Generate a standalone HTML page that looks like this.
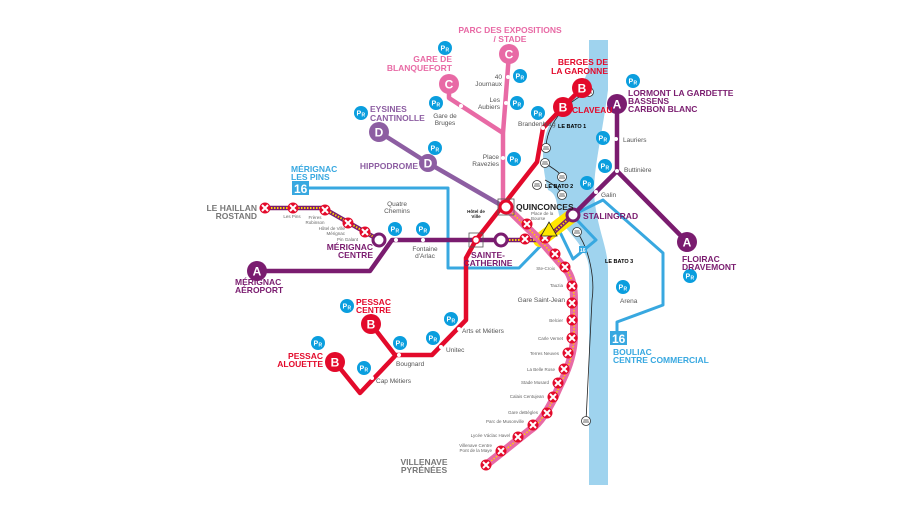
<!DOCTYPE html>
<html><head><meta charset="utf-8"><style>
html,body{margin:0;padding:0;background:#fff;width:900px;height:506px;overflow:hidden}
svg{display:block}
text{font-family:"Liberation Sans",sans-serif}
.t{font-weight:bold;font-size:8.5px}
.s{font-size:6.5px;fill:#555}
.xs{font-size:4.5px;fill:#666}
</style></head><body>
<svg width="900" height="506" viewBox="0 0 900 506" xmlns="http://www.w3.org/2000/svg">
<defs>
<g id="pr"><circle r="7" fill="#0a9ede"/><text x="-4.5" y="2.5" font-size="7" font-weight="bold" fill="#fff" style="font-family:'Liberation Sans',sans-serif">P</text><text x="0.5" y="3.5" font-size="5" font-weight="bold" fill="#fff" style="font-family:'Liberation Sans',sans-serif">R</text></g>
<g id="x"><circle r="5.5" fill="#e30a2b"/><path d="M-3,-3L3,3M3,-3L-3,3" stroke="#fff" stroke-width="2"/></g>
<g id="boat"><circle r="4.5" fill="#fff" stroke="#333" stroke-width="0.8"/><path d="M-3,1h6M-2.5,-1h5" stroke="#333" stroke-width="0.7"/></g>
</defs>
<!-- river -->
<path d="M589,40 H608 V90 C600,150 590,180 596,210 C600,235 608,250 608,270 V485 H589 V270 C589,250 570,235 562,222 C555,210 560,195 548,190 C540,160 540,130 560,110 C575,95 589,80 589,60 Z" fill="#9fd3ee"/>
<!-- bato lines -->
<g fill="none" stroke="#222" stroke-width="0.8">
<path d="M589,92 C570,100 548,120 546,146"/>
<path d="M545,163 C555,170 560,172 562,178 M545,180 C555,185 560,190 563,195"/>
<path d="M577,232 C590,250 595,280 592,300 L586,421"/>
</g>
<use href="#boat" x="589" y="92"/><use href="#boat" x="546" y="148"/><use href="#boat" x="545" y="163"/><use href="#boat" x="562" y="177"/><use href="#boat" x="537" y="185"/><use href="#boat" x="562" y="195"/><use href="#boat" x="577" y="232"/><use href="#boat" x="586" y="421"/>
<text x="558" y="128" font-size="5.5" font-weight="bold">LE BATO 1</text>
<text x="545" y="188" font-size="5.5" font-weight="bold">LE BATO 2</text>
<text x="605" y="263" font-size="5.5" font-weight="bold">LE BATO 3</text>
<!-- line 16 -->
<g fill="none" stroke="#38a8e0" stroke-width="3" stroke-linejoin="round">
<path d="M305,188 H448 V268 H519 L558,228 L573,259 L596,240 L577,220"/>
<path d="M573,215 L603,200 L663,253 V305 L617,322 V336"/>
</g>
<rect x="292" y="181" width="17" height="14" fill="#38a8e0"/><text x="294" y="193" font-size="12" font-weight="bold" fill="#fff">16</text>
<rect x="610" y="331" width="17" height="14" fill="#38a8e0"/><text x="612" y="343" font-size="12" font-weight="bold" fill="#fff">16</text>
<rect x="579" y="246" width="8" height="7" fill="#38a8e0"/><text x="580" y="252" font-size="5" font-weight="bold" fill="#fff">16</text>
<!-- yellow Bourse -->
<path d="M540,240 L573,215" stroke="#ffe600" stroke-width="14" stroke-linecap="round"/>
<!-- line C -->
<g fill="none" stroke="#e86aa5" stroke-width="4.5" stroke-linejoin="round">
<path d="M509,54 L503,133 V207"/><path d="M449,84 V98 L503,133"/>
</g>
<!-- line D -->
<path d="M379,132 L428,163 L506,208" fill="none" stroke="#8d5ea2" stroke-width="4.5"/>
<!-- line B -->
<path d="M582,88 L563,107 L543,128 L537,162 L476,240 L466,258 V320 L432,355 H395 L371,324 M395,356 L360,393 L335,362" fill="none" stroke="#e30a2b" stroke-width="4.5" stroke-linejoin="round"/>
<!-- line A -->
<g fill="none" stroke="#7a1c6f" stroke-width="4.5" stroke-linejoin="round">
<path d="M257,271 H370 L392,240 H545 L573,215 L617,171 V104 M617,171 L687,242"/>
<path d="M265,208 H323 L379,240"/>
</g>
<path d="M265,208 H323 L379,240" fill="none" stroke="#ffd200" stroke-width="2" stroke-dasharray="1.5,1.5"/>
<path d="M500,240 H545 L573,215" fill="none" stroke="#ffd200" stroke-width="2" stroke-dasharray="1.5,1.5"/>
<!-- pink hatched tram-train line -->
<path d="M506,207 L540,240 L568,272 Q574,282 574,300 V338 Q573,360 560,385 Q545,420 530,430 L486,465" fill="none" stroke="#e86aa5" stroke-width="8" stroke-linejoin="round"/>
<path d="M506,207 L540,240 L568,272 Q574,282 574,300 V338 Q573,360 560,385 Q545,420 530,430 L486,465" fill="none" stroke="#ffd200" stroke-width="1.5" stroke-dasharray="1.5,1.5"/>
<!-- X stations -->
<g>
<use href="#x" x="265" y="208"/><use href="#x" x="293" y="208"/><use href="#x" x="325" y="210"/><use href="#x" x="348" y="223"/><use href="#x" x="365" y="232"/>
<use href="#x" x="527" y="224"/><use href="#x" x="525" y="239"/><use href="#x" x="545" y="238"/><use href="#x" x="555" y="254"/><use href="#x" x="565" y="267"/><use href="#x" x="572" y="286"/><use href="#x" x="572" y="303"/><use href="#x" x="572" y="320"/><use href="#x" x="572" y="338"/><use href="#x" x="568" y="353"/><use href="#x" x="564" y="369"/><use href="#x" x="558" y="383"/><use href="#x" x="553" y="397"/><use href="#x" x="547" y="413"/><use href="#x" x="533" y="425"/><use href="#x" x="518" y="437"/><use href="#x" x="501" y="451"/><use href="#x" x="486" y="465"/>
</g>
<!-- interchange circles -->
<g fill="#fff" stroke-width="3">
<circle cx="506" cy="207" r="6" stroke="#e30a2b"/><circle cx="573" cy="215" r="6" stroke="#7a1c6f"/><circle cx="501" cy="240" r="6" stroke="#7a1c6f"/><circle cx="379" cy="240" r="6" stroke="#7a1c6f"/><circle cx="476" cy="240" r="3.5" stroke="#e30a2b" stroke-width="1.5"/>
</g>
<rect x="498" y="199" width="16" height="16" fill="none" stroke="#555" stroke-width="0.8"/>
<rect x="469" y="233" width="14" height="14" fill="none" stroke="#555" stroke-width="0.8"/>
<path d="M549,222 L557,236 H541 Z" fill="#ffe600" stroke="#222" stroke-width="0.8"/>
<!-- small stops -->
<g fill="#fff">
<circle cx="508" cy="77" r="2"/><circle cx="506" cy="103" r="2"/><circle cx="461" cy="106" r="2"/><circle cx="503" cy="158" r="2"/><circle cx="543" cy="128" r="2"/>
<circle cx="616" cy="139" r="2"/><circle cx="617" cy="171" r="2"/><circle cx="596" cy="192" r="2"/>
<circle cx="396" cy="240" r="2"/><circle cx="423" cy="240" r="2"/>
<circle cx="459" cy="329" r="2"/><circle cx="441" cy="347" r="2"/><circle cx="399" cy="355" r="2"/><circle cx="372" cy="378" r="2"/>
</g>
<!-- terminus letter circles -->
<g font-weight="bold" font-size="12" fill="#fff" text-anchor="middle">
<circle cx="509" cy="54" r="10" fill="#e86aa5"/><text x="509" y="58.5">C</text>
<circle cx="449" cy="84" r="10" fill="#e86aa5"/><text x="449" y="88.5">C</text>
<circle cx="379" cy="132" r="10" fill="#8d5ea2"/><text x="379" y="136.5">D</text>
<circle cx="428" cy="163" r="9" fill="#8d5ea2"/><text x="428" y="167.5">D</text>
<circle cx="582" cy="88" r="10" fill="#e30a2b"/><text x="582" y="92.5">B</text>
<circle cx="563" cy="107" r="10" fill="#e30a2b"/><text x="563" y="111.5">B</text>
<circle cx="617" cy="104" r="10" fill="#7a1c6f"/><text x="617" y="108.5">A</text>
<circle cx="687" cy="242" r="10" fill="#7a1c6f"/><text x="687" y="246.5">A</text>
<circle cx="257" cy="271" r="10" fill="#7a1c6f"/><text x="257" y="275.5">A</text>
<circle cx="371" cy="324" r="10" fill="#e30a2b"/><text x="371" y="328.5">B</text>
<circle cx="335" cy="362" r="10" fill="#e30a2b"/><text x="335" y="366.5">B</text>
</g>
<!-- P+R -->
<use href="#pr" x="445" y="48"/><use href="#pr" x="520" y="76"/><use href="#pr" x="436" y="103"/><use href="#pr" x="517" y="103"/><use href="#pr" x="538" y="113"/><use href="#pr" x="361" y="113"/><use href="#pr" x="435" y="148"/><use href="#pr" x="514" y="159"/><use href="#pr" x="395" y="229"/><use href="#pr" x="423" y="229"/>
<use href="#pr" x="633" y="81"/><use href="#pr" x="603" y="138"/><use href="#pr" x="605" y="166"/><use href="#pr" x="587" y="183"/><use href="#pr" x="623" y="287"/><use href="#pr" x="690" y="276"/>
<use href="#pr" x="347" y="306"/><use href="#pr" x="451" y="319"/><use href="#pr" x="433" y="338"/><use href="#pr" x="400" y="343"/><use href="#pr" x="318" y="343"/><use href="#pr" x="364" y="368"/>
<!-- terminus labels -->
<g class="t">
<text x="510" y="33" fill="#e86aa5" text-anchor="middle">PARC DES EXPOSITIONS</text><text x="510" y="42" fill="#e86aa5" text-anchor="middle">/ STADE</text>
<text x="452" y="62" fill="#e86aa5" text-anchor="end">GARE DE</text><text x="452" y="71" fill="#e86aa5" text-anchor="end">BLANQUEFORT</text>
<text x="370" y="112" fill="#8d5ea2">EYSINES</text><text x="370" y="121" fill="#8d5ea2">CANTINOLLE</text>
<text x="418" y="169" fill="#8d5ea2" text-anchor="end">HIPPODROME</text>
<text x="291" y="172" fill="#38a8e0">MÉRIGNAC</text><text x="291" y="180" fill="#38a8e0">LES PINS</text>
<text x="257" y="211" fill="#777" text-anchor="end">LE HAILLAN</text><text x="257" y="219" fill="#777" text-anchor="end">ROSTAND</text>
<text x="373" y="250" fill="#7a1c6f" text-anchor="end">MÉRIGNAC</text><text x="373" y="258" fill="#7a1c6f" text-anchor="end">CENTRE</text>
<text x="235" y="285" fill="#7a1c6f">MÉRIGNAC</text><text x="235" y="293" fill="#7a1c6f">AÉROPORT</text>
<text x="356" y="305" fill="#e30a2b">PESSAC</text><text x="356" y="313" fill="#e30a2b">CENTRE</text>
<text x="323" y="359" fill="#e30a2b" text-anchor="end">PESSAC</text><text x="323" y="367" fill="#e30a2b" text-anchor="end">ALOUETTE</text>
<text x="608" y="65" fill="#e30a2b" text-anchor="end">BERGES DE</text><text x="608" y="74" fill="#e30a2b" text-anchor="end">LA GARONNE</text>
<text x="572" y="113" fill="#e30a2b">CLAVEAU</text>
<text x="628" y="96" fill="#7a1c6f">LORMONT LA GARDETTE</text><text x="628" y="104" fill="#7a1c6f">BASSENS</text><text x="628" y="112" fill="#7a1c6f">CARBON BLANC</text>
<text x="682" y="262" fill="#7a1c6f">FLOIRAC</text><text x="682" y="270" fill="#7a1c6f">DRAVEMONT</text>
<text x="516" y="210" fill="#222">QUINCONCES</text>
<text x="583" y="219" fill="#7a1c6f">STALINGRAD</text>
<text x="488" y="258" fill="#7a1c6f" text-anchor="middle">SAINTE-</text><text x="488" y="266" fill="#7a1c6f" text-anchor="middle">CATHERINE</text>
<text x="613" y="355" fill="#38a8e0">BOULIAC</text><text x="613" y="363" fill="#38a8e0">CENTRE COMMERCIAL</text>
<text x="424" y="465" fill="#777" text-anchor="middle">VILLENAVE</text><text x="424" y="473" fill="#777" text-anchor="middle">PYRÉNÉES</text>
</g>
<!-- station labels -->
<g class="s">
<text x="502" y="79" text-anchor="end">40</text><text x="502" y="86" text-anchor="end">Journaux</text>
<text x="500" y="102" text-anchor="end">Les</text><text x="500" y="109" text-anchor="end">Aubiers</text>
<text x="445" y="118" text-anchor="middle">Gare de</text><text x="445" y="125" text-anchor="middle">Bruges</text>
<text x="499" y="159" text-anchor="end">Place</text><text x="499" y="166" text-anchor="end">Ravezies</text>
<text x="518" y="126">Brandenburg</text>
<text x="623" y="142">Lauriers</text><text x="624" y="172">Buttinière</text><text x="601" y="197">Galin</text>
<text x="397" y="206" text-anchor="middle">Quatre</text><text x="397" y="213" text-anchor="middle">Chemins</text>
<text x="425" y="251" text-anchor="middle">Fontaine</text><text x="425" y="258" text-anchor="middle">d'Arlac</text>
<text x="462" y="333">Arts et Métiers</text><text x="446" y="352">Unitec</text><text x="396" y="366">Bougnard</text><text x="376" y="383">Cap Métiers</text>
<text x="565" y="302" text-anchor="end">Gare Saint-Jean</text>
<text x="620" y="303">Arena</text>
</g>
<g class="xs">
<text x="292" y="218" text-anchor="middle">Les Pins</text>
<text x="315" y="219" text-anchor="middle">Frères</text><text x="315" y="224" text-anchor="middle">Robinson</text>
<text x="345" y="230" text-anchor="end">Hôtel de Ville</text><text x="345" y="235" text-anchor="end">Mérignac</text>
<text x="358" y="241" text-anchor="end">Pin Galant</text>
<text x="476" y="213" text-anchor="middle" font-weight="bold" fill="#222">Hôtel de</text><text x="476" y="218" text-anchor="middle" font-weight="bold" fill="#222">Ville</text>
<text x="531" y="215">Place de la</text><text x="531" y="220">Bourse</text>
<text x="555" y="270" text-anchor="end">Ste-Croix</text><text x="563" y="287" text-anchor="end">Tauzia</text>
<text x="563" y="322" text-anchor="end">Belcier</text><text x="563" y="340" text-anchor="end">Carle Vernet</text>
<text x="559" y="355" text-anchor="end">Terres Neuves</text><text x="555" y="371" text-anchor="end">La Belle Rose</text>
<text x="549" y="384" text-anchor="end">Stade Musard</text><text x="544" y="398" text-anchor="end">Calais Centujean</text>
<text x="538" y="414" text-anchor="end">Gare deBègles</text><text x="524" y="423" text-anchor="end">Parc de Musonville</text>
<text x="510" y="437" text-anchor="end">Lycée Václac Havel</text>
<text x="492" y="447" text-anchor="end">Villenave Centre</text><text x="492" y="452" text-anchor="end">Pont de la Maye</text>
</g>
</svg>
</body></html>
